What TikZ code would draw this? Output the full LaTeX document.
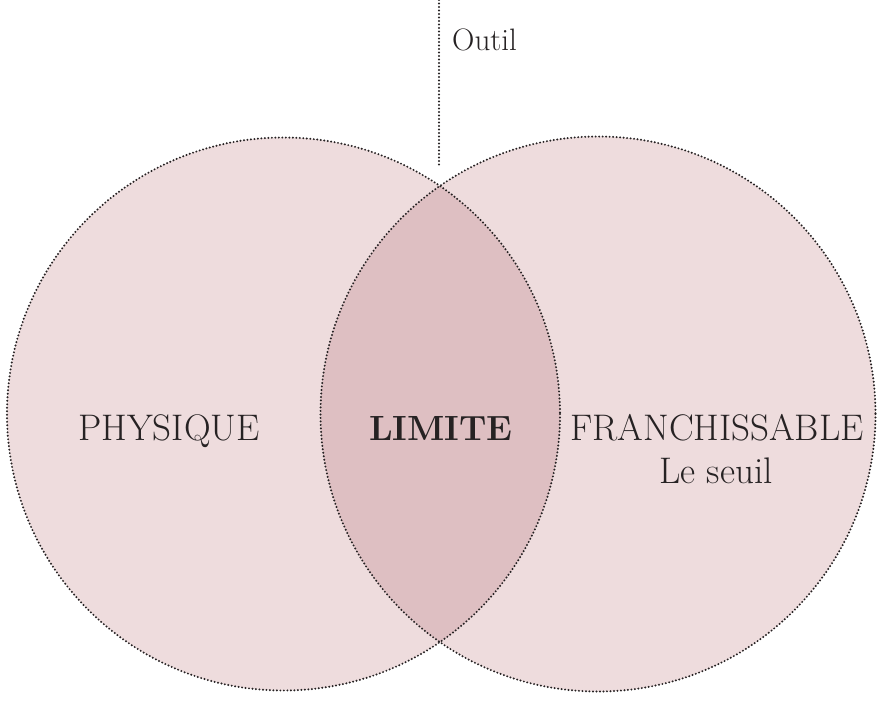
\documentclass[tikz,border=0pt]{standalone}
\usepackage{tikz}
\definecolor{pinklight}{HTML}{EEDCDD}
\definecolor{pinkdark}{HTML}{DEBFC2}
\definecolor{ink}{HTML}{262223}
\tikzset{
  dots/.style={draw=ink, line width=2.2pt, line cap=round, dash pattern=on 0pt off 3.5pt},
  lbl/.style={text=ink, font=\fontsize{37}{42}\selectfont, inner sep=0pt},
  small/.style={text=ink, font=\fontsize{31}{36}\selectfont, inner sep=0pt}
}
\begin{document}
\begin{tikzpicture}[x=1pt,y=-1pt]
\useasboundingbox (0,0) rectangle (882,701);
\coordinate (cl) at (283.5,414);
\coordinate (cr) at (598,414);
\fill[pinklight] (cl) circle[radius=276.5];
\fill[pinklight] (cr) circle[radius=277.5];
\begin{scope}
  \clip (cl) circle[radius=276.5];
  \fill[pinkdark] (cr) circle[radius=277.5];
\end{scope}
\draw[dots] (cl) circle[radius=276.5];
\draw[dots] (cr) circle[radius=277.5];
\coordinate (top) at (439,0);
\coordinate (bot) at (439,165);
\draw[dots] (top) -- (bot);
\node[small, anchor=base west] (outil) at (452,50) {Outil};
\node[lbl, anchor=base] (phys) at (169,440) {PHYSIQUE};
\node[lbl, anchor=base, font=\fontsize{35}{40}\selectfont\bfseries] (lim) at (441,440) {LIMITE};
\node[lbl, anchor=base] (fran) at (717,440) {FRANCHISSABLE};
\node[lbl, anchor=base] (seuil) at (716,483) {Le seuil};
\end{tikzpicture}
\end{document}
